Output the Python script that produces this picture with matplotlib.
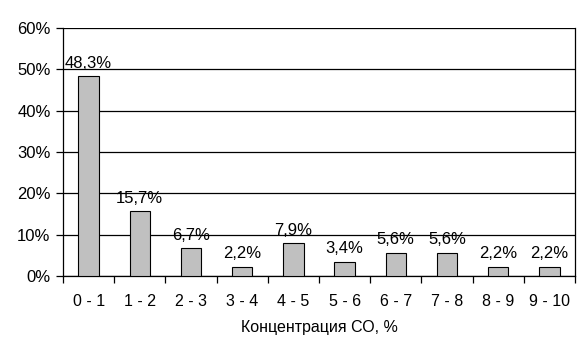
import numpy as np
import matplotlib.pyplot as plt
from matplotlib.ticker import PercentFormatter

plt.rcParams['font.family'] = ['Liberation Sans', 'DejaVu Sans']

# интервалы концентрации и доля случаев, %
categories = ['0 - 1', '1 - 2', '2 - 3', '3 - 4', '4 - 5',
              '5 - 6', '6 - 7', '7 - 8', '8 - 9', '9 - 10']
values = [48.3, 15.7, 6.7, 2.2, 7.9, 3.4, 5.6, 5.6, 2.2, 2.2]

fig = plt.figure(figsize=(5.81, 3.51), dpi=100)
ax = fig.add_axes([63/581, 1 - 276/351, (575 - 63)/581, (276 - 28)/351])

x = np.arange(len(categories))
bars = ax.bar(x, values, width=0.4, color='#C0C0C0', edgecolor='black',
              linewidth=0.8, zorder=3)

for xi, v in zip(x, values):
    ax.annotate(f'{v:.1f}%'.replace('.', ','), (xi, v), xytext=(0, 4),
                textcoords='offset points', ha='center', va='bottom',
                fontsize=12, zorder=4)

ax.set_xlim(-0.5, len(categories) - 0.5)
ax.set_ylim(0, 60)
ax.set_yticks(np.arange(0, 61, 10))
ax.yaxis.set_major_formatter(PercentFormatter(decimals=0))
ax.grid(axis='y', color='black', linewidth=0.9, zorder=0)

ax.set_xticks(x)
ax.set_xticklabels(categories)
ax.set_xticks(np.arange(-0.5, len(categories), 1), minor=True)
ax.tick_params(axis='x', which='major', length=0, pad=13, labelsize=11.5)
ax.tick_params(axis='x', which='minor', length=5, width=0.9, direction='out')
ax.tick_params(axis='y', length=5, width=0.9, labelsize=12, pad=4)

for s in ax.spines.values():
    s.set_color('black')
    s.set_linewidth(0.9)
ax.spines['top'].set_visible(False)

ax.set_xlabel('Концентрация СО, %', fontsize=11.5, labelpad=8)

fig.savefig('out.png', dpi=100)
